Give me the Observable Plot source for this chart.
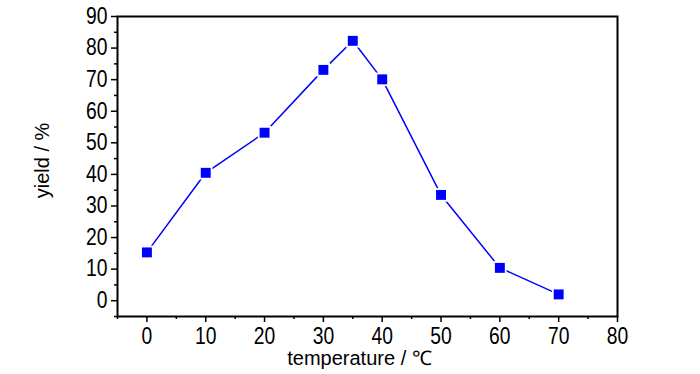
<!DOCTYPE html>
<html><head><meta charset="utf-8">
<script src="https://cdn.jsdelivr.net/npm/d3@7"></script>
<script src="https://cdn.jsdelivr.net/npm/@observablehq/plot@0.6"></script>
<style>body{margin:0;background:#fff}</style>
</head><body><div id="chart"></div>
<script>
const temperature = [0, 10, 20, 30, 35, 40, 50, 60, 70];
const yieldPct = [15.3, 40.5, 53.2, 73.1, 82.3, 70.1, 33.5, 10.4, 2.0];
const xMajorTicks = [0, 10, 20, 30, 40, 50, 60, 70, 80];
const xMinorTicks = [-5, 5, 15, 25, 35, 45, 55, 65, 75];
const yMajorTicks = [0, 10, 20, 30, 40, 50, 60, 70, 80, 90];
const yMinorTicks = [-5, 5, 15, 25, 35, 45, 55, 65, 75, 85];
const xTitle = "temperature / ℃";
const yTitle = "yield / %";

const data = temperature.map((t, i) => ({t, y: yieldPct[i]}));

const chart = Plot.plot({
  width: 700, height: 374,
  marginLeft: 117, marginRight: 83, marginTop: 16, marginBottom: 58,
  style: {fontFamily: "'Liberation Sans', Arial, sans-serif", fontSize: "20px", background: "#fff", color: "#000"},
  x: {domain: [-5, 80]},
  y: {domain: [-5, 90]},
  marks: [
    Plot.axisX(xMinorTicks, {tickSize: 3, tickFormat: () => "", label: null, strokeWidth: 1.5}),
    Plot.axisX(xMajorTicks, {tickSize: 6, tickPadding: 5, fontSize: 23, label: null, strokeWidth: 1.5}),
    Plot.axisY(yMinorTicks, {tickSize: 3, tickFormat: () => "", label: null, strokeWidth: 1.5}),
    Plot.axisY(yMajorTicks, {tickSize: 6, tickPadding: 4, fontSize: 23, label: null, strokeWidth: 1.5}),
    Plot.frame({strokeWidth: 2}),
    Plot.line(data, {x: "t", y: "y", stroke: "#0000ff", strokeWidth: 1.5}),
    Plot.dot(data, {x: "t", y: "y", symbol: "square", r: 7.6, fill: "white"}),
    Plot.dot(data, {x: "t", y: "y", symbol: "square", r: 5.6, fill: "#0000ff"}),
    Plot.text([yTitle], {frameAnchor: "left", textAnchor: "middle", lineAnchor: "middle", rotate: -90, dx: -75, dy: -6, text: d => d, fontSize: 20}),
    Plot.text([xTitle], {frameAnchor: "bottom", textAnchor: "middle", lineAnchor: "top", dy: 34, dx: -8, text: d => d, fontSize: 20})
  ]
});

// condense the tick labels horizontally (narrow face as in the reference)
d3.select(chart).selectAll("g[aria-label$='tick label'] text").each(function() {
  const el = d3.select(this);
  const tr = el.attr("transform");
  if (tr) {
    el.attr("transform", tr + " scale(0.84,1)");
  } else {
    const x = +el.attr("x") || 0, y = +el.attr("y") || 0;
    el.attr("x", null).attr("y", null).attr("transform", `translate(${x},${y}) scale(0.84,1)`);
  }
});
document.getElementById("chart").append(chart);
</script>
</body></html>
